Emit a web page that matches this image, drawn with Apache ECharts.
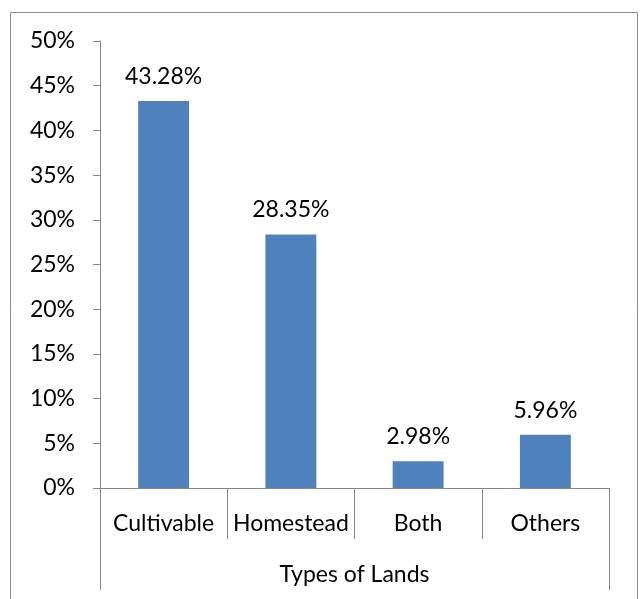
<!DOCTYPE html>
<html>
<head>
<meta charset="utf-8">
<style>
  html, body { margin: 0; padding: 0; background: #fff; }
  #chart { width: 641px; height: 599px; }
</style>
<script src="https://cdn.jsdelivr.net/npm/echarts@6/dist/echarts.min.js"></script>
</head>
<body>
<div id="chart"></div>
<script>
// Share of land types
const categories = ['Cultivable', 'Homestead', 'Both', 'Others'];
const shares = [0.4328, 0.2835, 0.0298, 0.0596];
const groupLabel = ['Types of Lands'];
const yTicks = { min: 0, max: 0.5, step: 0.05 };

const FONT = 'Lato, "Open Sans", sans-serif';
const FS = 23;
const AXIS_GRAY = '#868686';

const chart = echarts.init(document.getElementById('chart'), null, { renderer: 'canvas' });

chart.setOption({
  animation: false,
  backgroundColor: '#fff',
  textStyle: { fontFamily: FONT },
  graphic: [{
    type: 'rect',
    shape: { x: 10.5, y: 12.5, width: 627, height: 620 },
    style: { fill: 'none', stroke: '#8c8c8c', lineWidth: 1 },
    silent: true
  }],
  grid: { left: 100, right: 32, top: 41, bottom: 111, containLabel: false },
  xAxis: [{
    type: 'category',
    data: categories,
    position: 'bottom',
    axisLine: { show: true, lineStyle: { color: AXIS_GRAY, width: 1 } },
    axisTick: { show: true, alignWithLabel: false, interval: 0, length: 51, lineStyle: { color: AXIS_GRAY } },
    axisLabel: { interval: 0, margin: 24, fontSize: FS, color: '#000', fontFamily: FONT }
  }, {
    type: 'category',
    data: groupLabel,
    position: 'bottom',
    axisLine: { show: false },
    axisTick: { show: true, alignWithLabel: false, length: 102, lineStyle: { color: AXIS_GRAY } },
    axisLabel: { margin: 75, fontSize: FS, color: '#000', fontFamily: FONT }
  }],
  yAxis: {
    type: 'value',
    min: yTicks.min,
    max: yTicks.max,
    interval: yTicks.step,
    axisLine: { show: true, lineStyle: { color: AXIS_GRAY, width: 1 } },
    axisTick: { show: true, length: 7, lineStyle: { color: AXIS_GRAY } },
    splitLine: { show: false },
    axisLabel: {
      margin: 25,
      fontSize: FS,
      color: '#000',
      fontFamily: FONT,
      formatter: v => Math.round(v * 100) + '%'
    }
  },
  series: [{
    type: 'bar',
    xAxisIndex: 0,
    data: shares,
    barWidth: '40%',
    itemStyle: { color: '#4F81BD' },
    label: {
      show: true,
      position: 'top',
      distance: 13,
      fontSize: FS,
      color: '#000',
      fontFamily: FONT,
      formatter: p => (p.value * 100).toFixed(2) + '%'
    }
  }]
});
</script>
</body>
</html>
